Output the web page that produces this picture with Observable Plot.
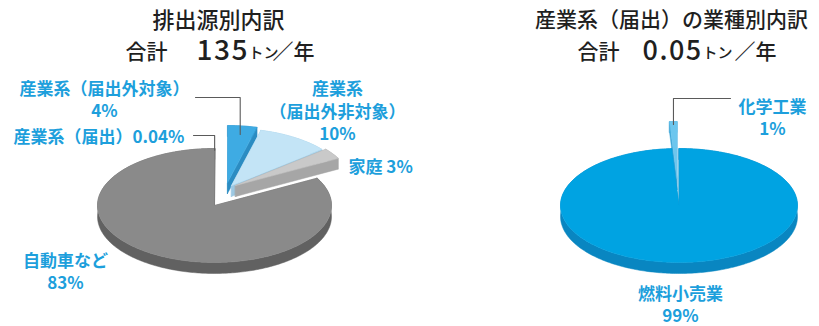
<!DOCTYPE html>
<html><head><meta charset="utf-8">
<script src="https://cdn.jsdelivr.net/npm/d3@7"></script>
<script src="https://cdn.jsdelivr.net/npm/@observablehq/plot@0.6"></script>
<style>
body{margin:0;background:#fff;}
#chart svg{display:block;}
</style>
</head><body><div id="chart"></div>
<script>
// ---------- data ----------
const leftTitle = "排出源別内訳";
const leftTotal = "135";
const leftCategories = ["産業系（届出）", "産業系（届出外対象）", "産業系（届出外非対象）", "家庭", "自動車など"];
const leftValues = [0.04, 4, 10, 3, 83];
const leftPctLabels = ["0.04%", "4%", "10%", "3%", "83%"];

const rightTitle = "産業系（届出）の業種別内訳";
const rightTotal = "0.05";
const rightCategories = ["燃料小売業", "化学工業"];
const rightValues = [99, 1];
const rightPctLabels = ["99%", "1%"];

const totalPrefix = "合計";
const unitSmall = "トン";
const unitRest = "／年";

// ---------- styles / layout ----------
const leftStyle = {
  cx: 214, cy: 205, rx: 117, ry: 57, h: 11,
  top:  ["#8a8a8a", "#3eabe3", "#c3e4f6", "#c9c9c9", "#8a8a8a"],
  side: ["#616161", "#2b8cc2", "#9cc8e2", "#a6a6a6", "#616161"],
  explode: [[0, 0], [13, -23], [17, -20], [21, -20], [0, 0]],
  order: [1, 2, 3, 0, 4]
};
const rightStyle = {
  cx: 678.5, cy: 205, rx: 118.5, ry: 57, h: 11,
  top:  ["#00a3e2", "#6cc6ee"],
  side: ["#0986c1", "#3ea7d8"],
  explode: [[0, 0], [-2, -27]],
  order: [1, 0]
};
const blue = "#1d9fdc";
const labelFont = "'Noto Sans CJK JP', sans-serif";

// ---------- geometry from values ----------
function sliceAngles(values) {
  const total = d3.sum(values);
  let acc = 0;
  return values.map((v, i) => {
    const a0 = acc / total * 2 * Math.PI; acc += v;
    const a1 = acc / total * 2 * Math.PI;
    return {i, a0, a1};
  });
}
function pt(st, s, a, r = 1, dy = 0) {
  return {
    x: st.cx + st.explode[s.i][0] + r * st.rx * Math.sin(a),
    y: st.cy + st.explode[s.i][1] - r * st.ry * Math.cos(a) + dy
  };
}
function pieShapes(values, st, pid) {
  const slices = sliceAngles(values);
  const out = [];
  const push = (id, color, pts) => pts.forEach(p => out.push({id, color, x: p.x, y: p.y}));
  for (const idx of st.order) {
    const s = slices[idx];
    const n = Math.max(2, Math.ceil((s.a1 - s.a0) / (Math.PI / 180)));
    const angs = d3.range(n + 1).map(k => s.a0 + (s.a1 - s.a0) * k / n);
    const topArc = angs.map(a => pt(st, s, a));
    const botArc = angs.map(a => pt(st, s, a, 1, st.h)).reverse();
    const c = pt(st, s, 0, 0), cb = pt(st, s, 0, 0, st.h);
    push(`${pid}-${idx}-band`, st.side[idx], [...topArc, ...botArc]);
    push(`${pid}-${idx}-r0`, st.side[idx], [c, pt(st, s, s.a0), pt(st, s, s.a0, 1, st.h), cb]);
    push(`${pid}-${idx}-r1`, st.side[idx], [c, pt(st, s, s.a1), pt(st, s, s.a1, 1, st.h), cb]);
    push(`${pid}-${idx}-top`, st.top[idx], [c, ...topArc]);
  }
  return out;
}
function slicePoint(values, st, idx, r) {
  const s = sliceAngles(values)[idx];
  return pt(st, s, (s.a0 + s.a1) / 2, r);
}

const shapes = [...pieShapes(leftValues, leftStyle, "L"), ...pieShapes(rightValues, rightStyle, "R")];

// leader lines: label-side start, elbow, end at slice
const leaders = [
  {id: "l0", from: [193, 135], end: slicePoint(leftValues, leftStyle, 0, 0.97)},
  {id: "l1", from: [195, 97], end: slicePoint(leftValues, leftStyle, 1, 0.85)},
  {id: "r1", from: [730, 98], end: slicePoint(rightValues, rightStyle, 1, 0.95)}
].flatMap(d => [
  {id: d.id, x: d.from[0], y: d.from[1]},
  {id: d.id, x: d.end.x, y: d.from[1]},
  {id: d.id, x: d.end.x, y: d.end.y}
]);

// labels
const labelsMiddle = [
  {text: leftCategories[1] + "\n" + leftPctLabels[1], x: 104, y: 98.5},
  {text: leftCategories[0] + leftPctLabels[0], x: 98.5, y: 135},
  {text: "産業系\n（届出外非対象）\n" + leftPctLabels[2], x: 337, y: 110},
  {text: leftCategories[4] + "\n" + leftPctLabels[4], x: 65, y: 270.5},
  {text: rightCategories[1] + "\n" + rightPctLabels[1], x: 772, y: 116},
  {text: rightCategories[0] + "\n" + rightPctLabels[0], x: 680, y: 303}
];
const labelsStart = [
  {text: leftCategories[3] + " " + leftPctLabels[3], x: 348, y: 165}
];

const titleParts = [
  {text: leftTitle, x: 218, y: 20, size: 22, anchor: "middle"},
  {text: totalPrefix, x: 125, y: 52, size: 21, anchor: "start"},
  {text: leftTotal, x: 196, y: 51, size: 28, anchor: "start"},
  {text: unitSmall, x: 248, y: 53, size: 15, anchor: "start"},
  {text: unitRest, x: 272, y: 52, size: 21, anchor: "start"},
  {text: rightTitle, x: 671, y: 20, size: 21, anchor: "middle"},
  {text: totalPrefix, x: 577, y: 52, size: 21, anchor: "start"},
  {text: rightTotal, x: 642, y: 51, size: 27, anchor: "start"},
  {text: unitSmall, x: 702, y: 53, size: 15, anchor: "start"},
  {text: unitRest, x: 734, y: 52, size: 21, anchor: "start"}
];

const labelOpts = {x: "x", y: "y", text: "text", fill: blue, fontSize: 17, fontWeight: 700, lineHeight: 1.3, fontFamily: labelFont};

const plot = Plot.plot({
  width: 819, height: 326,
  marginTop: 0, marginRight: 0, marginBottom: 0, marginLeft: 0,
  x: {domain: [0, 819], range: [0, 819], axis: null},
  y: {domain: [0, 326], range: [0, 326], axis: null},
  color: {type: "identity"},
  style: {background: "#ffffff", fontFamily: labelFont},
  marks: [
    Plot.line(shapes, {x: "x", y: "y", z: "id", fill: "color", stroke: "color", strokeWidth: 0.5, curve: "linear-closed"}),
    Plot.line(leaders, {x: "x", y: "y", z: "id", stroke: "#5a5a5a", strokeWidth: 1.1}),
    Plot.text(labelsMiddle, {...labelOpts, textAnchor: "middle"}),
    Plot.text(labelsStart, {...labelOpts, textAnchor: "start"}),
    ...titleParts.map(t => Plot.text([t], {x: "x", y: "y", text: "text", textAnchor: t.anchor, fill: "#1f1f1f", fontSize: t.size, fontWeight: 500, fontFamily: labelFont}))
  ]
});
document.getElementById("chart").appendChild(plot);
d3.select(plot).selectAll("text").filter(function() { return this.textContent === leftTotal || this.textContent === rightTotal; })
  .attr("letter-spacing", "1.5px");
</script>
</body></html>
